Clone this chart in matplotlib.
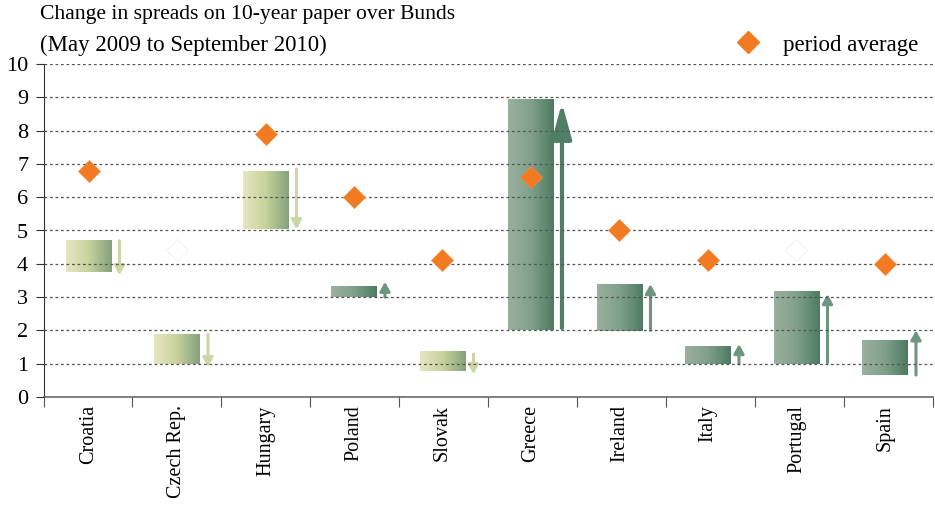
import numpy as np
import matplotlib
matplotlib.use("Agg")
from matplotlib import pyplot as plt
from matplotlib.colors import LinearSegmentedColormap
from matplotlib.lines import Line2D

countries = ["Croatia", "Czech Rep.", "Hungary", "Poland", "Slovak",
             "Greece", "Ireland", "Italy", "Portugal", "Spain"]
# spread range (low / high) shown by the bar
bar_low = [3.75, 0.99, 5.05, 2.99, 0.79, 2.00, 1.99, 0.99, 1.00, 0.66]
bar_high = [4.70, 1.89, 6.79, 3.30, 1.38, 8.92, 3.39, 1.51, 3.19, 1.71]
# arrow from start spread to end spread
arrow_from = [4.69, 1.89, 6.85, 3.00, 1.29, 2.07, 2.00, 0.99, 1.02, 0.66]
arrow_to = [3.66, 0.90, 5.04, 3.46, 0.69, 8.83, 3.39, 1.59, 3.09, 2.00]
period_avg = [6.8, 4.4, 7.9, 6.0, 4.1, 6.6, 5.0, 4.1, 4.4, 4.0]
avg_visible = [True, False, True, True, True, True, True, True, False, True]

plt.rcParams["font.family"] = ["Liberation Serif", "DejaVu Serif"]

dark_cmap = LinearSegmentedColormap.from_list("dk", ["#9bb0a0", "#80a08a", "#4e7a62"])
light_cmap = LinearSegmentedColormap.from_list("lt", ["#e6e6c2", "#c8d29c", "#84a07c"])
grad = np.linspace(0, 1, 256).reshape(1, -1)

fig = plt.figure(figsize=(9.35, 5.05), dpi=100)
ax = fig.add_axes([43.5 / 935, 1 - 397 / 505, (933 - 43.5) / 935, (397 - 64) / 505])

x = np.arange(len(countries))
bw = 0.51
for i in x:
    falling = arrow_to[i] < arrow_from[i]
    cmap = light_cmap if falling else dark_cmap
    ax.imshow(grad, cmap=cmap, aspect="auto", interpolation="bicubic",
              extent=[i - bw / 2, i + bw / 2, bar_low[i], bar_high[i]], zorder=1)
    big = abs(arrow_to[i] - arrow_from[i]) > 5
    acol = "#cbd6a4" if falling else ("#4f7f64" if big else "#6f9581")
    if big:
        style = "-|>,head_length=0.8,head_width=0.22"
        ms, lw = 27, 3.0
    else:
        style = "-|>,head_length=0.45,head_width=0.25"
        ms, lw = 12, 2.2
    ax.annotate("", xy=(i + 0.35, arrow_to[i]), xytext=(i + 0.35, arrow_from[i]),
                arrowprops=dict(arrowstyle=style, mutation_scale=ms, lw=lw,
                                color=acol, shrinkA=0, shrinkB=0), zorder=1)

for i in x:
    if avg_visible[i]:
        ax.plot(i, period_avg[i], marker="D", ms=11.5, color="#f27a22",
                mec="#f58a3a", mew=0.5, zorder=4, ls="none")
    else:
        ax.plot(i, period_avg[i], marker="D", ms=11.5, mfc="white",
                mec="#f3f3f3", mew=0.8, zorder=4, ls="none")

xmin, xmax = -45 / 88.5, 844.5 / 88.5
ax.set_xlim(xmin, xmax)
ax.set_ylim(0, 10)
ax.set_yticks(range(0, 11))
ax.grid(axis="y", linestyle=(0, (2.2, 2.2)), color="#555555", lw=0.9)
ax.set_axisbelow(False)

bounds = xmin + np.arange(11) * (xmax - xmin) / 10
ax.set_xticks(bounds)
ax.set_xticklabels([])
ax.set_xticks(x, minor=True)
ax.set_xticklabels(countries, minor=True, rotation=90, fontsize=14.5)
ax.tick_params(axis="x", which="minor", length=0, pad=6)
ax.tick_params(axis="x", which="major", length=7, color="#555555", direction="out")
ax.tick_params(axis="y", length=6, direction="out", labelsize=16, pad=5, color="#333333")

for s in ["top", "right"]:
    ax.spines[s].set_visible(False)
ax.spines["left"].set_color("#333333")
ax.spines["bottom"].set_color("#777777")
ax.spines["bottom"].set_linewidth(1.3)

fig.text(40 / 935, 1 - 15 / 505, "Change in spreads on 10-year paper over Bunds",
         fontsize=15.6, va="center", ha="left")
fig.text(40 / 935, 1 - 45 / 505, "(May 2009 to September 2010)",
         fontsize=16.5, va="center", ha="left")

handle = Line2D([], [], marker="D", ms=11.5, color="#f27a22", ls="none")
fig.legend([handle], ["period average"], loc="center right", frameon=False,
           bbox_to_anchor=(918 / 935, 1 - 45 / 505), fontsize=16.5,
           handletextpad=0.5, borderaxespad=0, borderpad=0)

fig.savefig("out.png", dpi=100)
